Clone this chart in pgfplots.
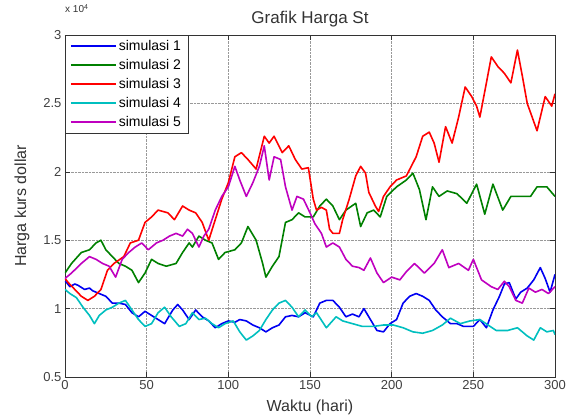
\documentclass[border=0pt]{standalone}
\usepackage{fontspec}
\setmainfont{Liberation Sans}
\usepackage{pgfplots}
\pgfplotsset{compat=1.18}
\definecolor{mblue}{rgb}{0,0,0.95}
\definecolor{mgreen}{rgb}{0,0.5,0}
\definecolor{mred}{rgb}{1,0,0}
\definecolor{mcyan}{rgb}{0,0.75,0.75}
\definecolor{mmag}{rgb}{0.75,0,0.75}
\begin{document}
\begin{tikzpicture}
\useasboundingbox (-65pt,-39pt) rectangle (503pt,377pt);
\begin{axis}[
  name=ax,
  at={(0pt,0pt)}, anchor=south west,
  width=490pt, height=342pt, scale only axis,
  xmin=0, xmax=300, ymin=0.5, ymax=3,
  xtick={0,50,...,300}, ytick={0.5,1,...,3},
  scaled y ticks=false,
  grid=major,
  major grid style={densely dotted, black!40, line width=0.5pt},
  tick align=inside, major tick length=5pt,
  axis line style={black!80, line width=0.6pt},
  tick style={black!80, line width=0.6pt},
  ticklabel style={font=\fontsize{13}{15}\selectfont, text=black!75},
  /pgf/number format/assume math mode=true,
  legend style={at={(0,1)}, anchor=north west, draw=black!80,
    fill=white, font=\fontsize{14}{15}\selectfont,
    inner xsep=5pt, inner ysep=3pt, row sep=3.4pt},
  legend cell align=left,
  legend image code/.code={\draw[#1] (0pt,0pt) -- (45pt,0pt);},
]
% simulasi 1
\addplot[color=mblue, line width=1.6pt, line join=round] coordinates {
(0,1.20)(1,1.19)(3,1.16)(6,1.18)(8,1.17)(12,1.14)(15,1.15)(17,1.13)(21,1.11)(25,1.09)
(29,1.04)(33,1.04)(37,1.03)(41,0.97)(45,0.94)(49,0.98)(53,0.95)(57,0.92)(61,0.89)(64,0.95)
(66,0.99)(69,1.03)(72,0.99)(76,0.92)(80,0.99)(84,0.94)(88,0.91)(92,0.86)(96,0.89)(100,0.91)
(104,0.90)(107,0.92)(111,0.91)(115,0.88)(119,0.86)(123,0.83)(127,0.86)(131,0.88)(135,0.94)(139,0.95)
(143,0.94)(147,0.97)(152,0.94)(156,1.04)(160,1.06)(164,1.06)(168,1.01)(172,0.94)(176,0.96)(180,0.94)
(183,1.00)(187,0.92)(191,0.84)(195,0.83)(199,0.89)(203,0.92)(207,1.04)(211,1.09)(215,1.11)(219,1.09)
(223,1.06)(227,0.99)(231,0.94)(236,0.89)(240,0.89)(244,0.87)(250,0.87)(254,0.92)(258,0.86)(262,0.99)
(266,1.09)(269,1.18)(272,1.19)(276,1.07)(279,1.12)(283,1.15)(287,1.21)(291,1.30)(294,1.22)(297,1.12)(300,1.25)
};
\addlegendentry{simulasi 1\hspace{5pt}}
% simulasi 2
\addplot[color=mgreen, line width=1.6pt, line join=round] coordinates {
(0,1.26)(4,1.33)(10,1.41)(15,1.43)(19,1.48)(22,1.50)(25,1.43)(29,1.38)(33,1.33)(37,1.31)
(41,1.28)(45,1.19)(49,1.26)(53,1.36)(57,1.33)(62,1.31)(68,1.33)(72,1.41)(76,1.48)(78,1.45)
(82,1.53)(86,1.50)(90,1.48)(94,1.36)(98,1.41)(104,1.43)(108,1.48)(112,1.60)(117,1.50)(121,1.33)
(123,1.23)(127,1.31)(131,1.38)(135,1.63)(139,1.65)(143,1.70)(147,1.67)(152,1.67)(156,1.75)(160,1.80)
(164,1.75)(168,1.65)(172,1.72)(178,1.77)(181,1.60)(185,1.70)(189,1.72)(193,1.67)(197,1.82)(203,1.89)
(209,1.94)(213,1.99)(217,1.87)(221,1.65)(225,1.89)(229,1.82)(234,1.86)(240,1.84)(246,1.77)(252,1.91)
(257,1.69)(262,1.91)(268,1.72)(273,1.82)(279,1.82)(285,1.82)(289,1.89)(295,1.89)(300,1.82)
};
\addlegendentry{simulasi 2}
% simulasi 3
\addplot[color=mred, line width=1.6pt, line join=round] coordinates {
(0,1.22)(2,1.19)(6,1.14)(10,1.09)(14,1.06)(18,1.09)(22,1.14)(26,1.28)(30,1.33)(36,1.38)
(40,1.48)(45,1.50)(49,1.63)(53,1.67)(57,1.72)(63,1.70)(67,1.65)(72,1.75)(76,1.72)(80,1.70)
(84,1.63)(88,1.50)(92,1.65)(96,1.80)(100,1.92)(104,2.11)(108,2.14)(112,2.09)(117,2.02)(122,2.26)
(125,2.21)(128,2.26)(133,2.14)(137,2.19)(141,2.09)(145,2.02)(149,2.03)(152,1.80)(154,1.72)(157,1.74)
(160,1.72)(162,1.58)(164,1.55)(168,1.55)(170,1.65)(174,1.80)(178,1.97)(181,2.04)(184,1.99)(186,1.85)
(190,1.75)(192,1.71)(195,1.82)(199,1.89)(203,1.94)(209,1.97)(215,2.11)(219,2.26)(223,2.29)(226,2.21)
(229,2.07)(233,2.33)(237,2.21)(241,2.40)(245,2.62)(249,2.55)(252,2.48)(254,2.40)(258,2.65)(261,2.84)
(265,2.77)(269,2.72)(273,2.65)(277,2.89)(280,2.70)(283,2.50)(286,2.40)(289,2.30)(292,2.45)(294,2.55)
(298,2.48)(300,2.57)
};
\addlegendentry{simulasi 3}
% simulasi 4
\addplot[color=mcyan, line width=1.6pt, line join=round] coordinates {
(0,1.14)(3,1.11)(7,1.08)(11,1.01)(15,0.95)(18,0.89)(21,0.95)(25,0.99)(29,1.01)(33,1.04)
(37,1.06)(41,0.99)(45,0.92)(49,0.87)(53,0.89)(57,0.97)(61,1.01)(65,0.94)(70,0.87)(74,0.89)
(78,0.97)(82,0.92)(86,0.93)(90,0.89)(94,0.86)(98,0.89)(103,0.91)(107,0.83)(111,0.77)(115,0.80)
(119,0.84)(123,0.92)(127,0.99)(131,1.04)(135,1.06)(139,1.01)(143,0.94)(147,0.99)(151,0.94)(154,0.97)
(160,0.86)(166,0.94)(170,0.91)(176,0.89)(182,0.87)(189,0.87)(195,0.88)(201,0.88)(207,0.86)(213,0.83)
(219,0.82)(225,0.84)(231,0.88)(236,0.93)(242,0.89)(248,0.91)(254,0.92)(259,0.88)(264,0.84)(271,0.84)
(277,0.86)(283,0.80)(287,0.77)(291,0.86)(295,0.83)(299,0.84)(300,0.81)
};
\addlegendentry{simulasi 4}
% simulasi 5
\addplot[color=mmag, line width=1.6pt, line join=round] coordinates {
(0,1.22)(4,1.26)(10,1.33)(15,1.38)(19,1.36)(23,1.33)(27,1.31)(31,1.23)(35,1.36)(39,1.41)
(43,1.45)(47,1.48)(51,1.43)(56,1.48)(60,1.50)(64,1.53)(68,1.55)(72,1.53)(75,1.58)(78,1.55)
(82,1.45)(85,1.53)(88,1.58)(92,1.72)(96,1.82)(100,1.89)(104,2.04)(107,1.94)(111,1.82)(115,1.92)
(119,2.04)(122,2.19)(125,1.94)(128,2.11)(132,2.09)(135,1.89)(139,1.72)(142,1.82)(146,1.80)(150,1.70)
(153,1.62)(157,1.55)(160,1.45)(164,1.48)(168,1.45)(172,1.36)(176,1.31)(180,1.30)(183,1.28)(187,1.37)
(191,1.26)(195,1.19)(200,1.23)(205,1.21)(209,1.27)(214,1.33)(220,1.26)(226,1.33)(231,1.43)(235,1.30)
(241,1.33)(247,1.28)(250,1.36)(255,1.21)(261,1.16)(265,1.14)(269,1.20)(272,1.16)(276,1.06)(280,1.04)
(284,1.15)(288,1.12)(292,1.14)(296,1.11)(300,1.16)
};
\addlegendentry{simulasi 5}
\end{axis}
\path (ax.north) ++(0pt,16pt) node[font=\fontsize{17}{19}\selectfont, text=black!80] {Grafik Harga St};
\path (ax.south) ++(0pt,-30pt) node[font=\fontsize{16}{18}\selectfont, text=black!80] {Waktu (hari)};
\path (ax.west) ++(-43pt,0pt) node[font=\fontsize{16}{18}\selectfont, text=black!80, rotate=90] {Harga kurs dollar};
\path (ax.north west) ++(0pt,22pt) node[font=\fontsize{10}{12}\selectfont, text=black!80, anchor=south west, inner sep=0pt] {x 10\textsuperscript{4}};
\end{tikzpicture}
\end{document}
